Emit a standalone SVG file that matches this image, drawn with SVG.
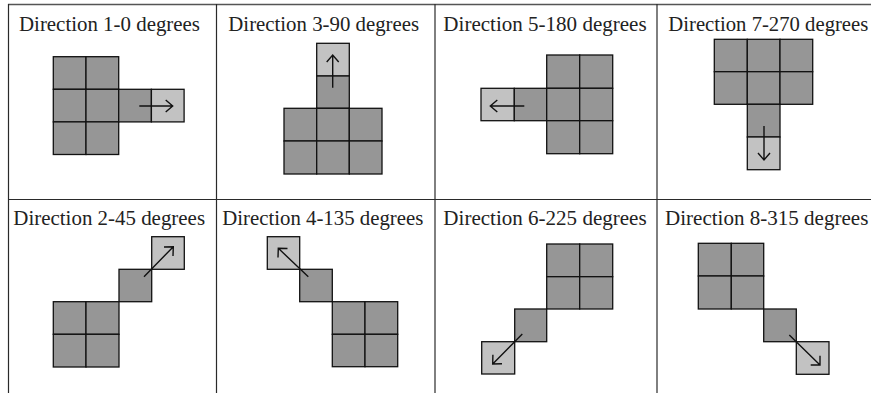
<svg xmlns="http://www.w3.org/2000/svg" width="871" height="393" viewBox="0 0 871 393">
<style>
.bg{fill:#ffffff}
.grid{stroke:#2a2a2a;stroke-width:1.2;fill:none}
.top{stroke:#555555;stroke-width:1.6}
.lbl{font-family:"Liberation Serif","Times New Roman",serif;font-size:20px;fill:#222222;text-anchor:middle}
.d{fill:#969696;stroke:#111111;stroke-width:1.3}
.l{fill:#c2c2c2;stroke:#111111;stroke-width:1.3}
.arr{stroke:#111111;stroke-width:1.4;fill:none}
</style>
<rect class="bg" x="0" y="0" width="871" height="393"/>
<g id="table">
<line class="top" x1="8" y1="4.5" x2="871" y2="4.5"/>
<line class="grid" x1="8.5" y1="4" x2="8.5" y2="393"/>
<line class="grid" x1="216.5" y1="4" x2="216.5" y2="393"/>
<line class="grid" x1="435" y1="4" x2="435" y2="393"/>
<line class="grid" x1="657" y1="4" x2="657" y2="393"/>
<line class="grid" x1="8" y1="199.5" x2="871" y2="199.5"/>
</g>
<g id="p1">
<text class="lbl" x="109.5" y="31" textLength="181" lengthAdjust="spacingAndGlyphs">Direction 1-0 degrees</text>
<rect class="d" x="53.3" y="56.7" width="32.7" height="32.6"/>
<rect class="d" x="86" y="56.7" width="32.7" height="32.6"/>
<rect class="d" x="53.3" y="89.3" width="32.7" height="32.6"/>
<rect class="d" x="86" y="89.3" width="32.7" height="32.6"/>
<rect class="d" x="53.3" y="121.9" width="32.7" height="32.6"/>
<rect class="d" x="86" y="121.9" width="32.7" height="32.6"/>
<rect class="d" x="118.7" y="89.3" width="32.7" height="32.6"/>
<rect class="l" x="151.4" y="89.3" width="32.7" height="32.6"/>
<path class="arr" d="M139.3 106H172.7M165.7 100L172.7 106L165.7 112"/>
</g>
<g id="p2">
<text class="lbl" x="323.7" y="31" textLength="190.7" lengthAdjust="spacingAndGlyphs">Direction 3-90 degrees</text>
<rect class="l" x="316.7" y="43.3" width="32.6" height="32.7"/>
<rect class="d" x="316.7" y="76" width="32.6" height="32.3"/>
<rect class="d" x="284" y="108.3" width="32.7" height="32.7"/>
<rect class="d" x="316.7" y="108.3" width="32.6" height="32.7"/>
<rect class="d" x="349.3" y="108.3" width="32.7" height="32.7"/>
<rect class="d" x="284" y="141" width="32.7" height="33"/>
<rect class="d" x="316.7" y="141" width="32.6" height="33"/>
<rect class="d" x="349.3" y="141" width="32.7" height="33"/>
<path class="arr" d="M332.7 87.7V55M326.7 62L332.7 55L338.7 62"/>
</g>
<g id="p3">
<text class="lbl" x="545" y="31" textLength="203.3" lengthAdjust="spacingAndGlyphs">Direction 5-180 degrees</text>
<rect class="l" x="481" y="88.3" width="33.3" height="32.4"/>
<rect class="d" x="514.3" y="88.3" width="32.4" height="32.4"/>
<rect class="d" x="546.7" y="55" width="33" height="33.3"/>
<rect class="d" x="579.7" y="55" width="33" height="33.3"/>
<rect class="d" x="546.7" y="88.3" width="33" height="32.4"/>
<rect class="d" x="579.7" y="88.3" width="33" height="32.4"/>
<rect class="d" x="546.7" y="120.7" width="33" height="33"/>
<rect class="d" x="579.7" y="120.7" width="33" height="33"/>
<path class="arr" d="M524.3 106H490.3M497.3 100L490.3 106L497.3 112"/>
</g>
<g id="p4">
<text class="lbl" x="768.3" y="31" textLength="200" lengthAdjust="spacingAndGlyphs">Direction 7-270 degrees</text>
<rect class="d" x="714.3" y="39.3" width="33" height="32.4"/>
<rect class="d" x="747.3" y="39.3" width="32.7" height="32.4"/>
<rect class="d" x="780" y="39.3" width="32.7" height="32.4"/>
<rect class="d" x="714.3" y="71.7" width="33" height="32.6"/>
<rect class="d" x="747.3" y="71.7" width="32.7" height="32.6"/>
<rect class="d" x="780" y="71.7" width="32.7" height="32.6"/>
<rect class="d" x="747.3" y="104.3" width="32.7" height="32.7"/>
<rect class="l" x="747.3" y="137" width="32.7" height="32.7"/>
<path class="arr" d="M764 126V160M758 153L764 160L770 153"/>
</g>
<g id="p5">
<text class="lbl" x="109.2" y="224.5" textLength="191.7" lengthAdjust="spacingAndGlyphs">Direction 2-45 degrees</text>
<rect class="l" x="151.7" y="236.7" width="32.6" height="32.6"/>
<rect class="d" x="119" y="269.3" width="32.7" height="32.4"/>
<rect class="d" x="53.3" y="301.7" width="32.7" height="32.6"/>
<rect class="d" x="86" y="301.7" width="33" height="32.6"/>
<rect class="d" x="53.3" y="334.3" width="32.7" height="32.7"/>
<rect class="d" x="86" y="334.3" width="33" height="32.7"/>
<path class="arr" d="M144 276.7L173.3 246.7M164 247L173.3 246.7L173 256"/>
</g>
<g id="p6">
<text class="lbl" x="322.8" y="224.5" textLength="201" lengthAdjust="spacingAndGlyphs">Direction 4-135 degrees</text>
<rect class="l" x="267.3" y="236.7" width="32.4" height="32.6"/>
<rect class="d" x="299.7" y="269.3" width="32.6" height="32.4"/>
<rect class="d" x="332.3" y="301.7" width="32.7" height="32.6"/>
<rect class="d" x="365" y="301.7" width="32.7" height="32.6"/>
<rect class="d" x="332.3" y="334.3" width="32.7" height="32.4"/>
<rect class="d" x="365" y="334.3" width="32.7" height="32.4"/>
<path class="arr" d="M308.3 276.7L278.3 248.3M278 257.5L278.3 248.3L287.5 248.5"/>
</g>
<g id="p7">
<text class="lbl" x="545" y="224.5" textLength="203.3" lengthAdjust="spacingAndGlyphs">Direction 6-225 degrees</text>
<rect class="d" x="546.7" y="244" width="33" height="32.7"/>
<rect class="d" x="579.7" y="244" width="33" height="32.7"/>
<rect class="d" x="546.7" y="276.7" width="33" height="32.3"/>
<rect class="d" x="579.7" y="276.7" width="33" height="32.3"/>
<rect class="d" x="514.7" y="309" width="32" height="32.7"/>
<rect class="l" x="481.7" y="341.7" width="33" height="32.3"/>
<path class="arr" d="M522.3 334L492.7 364M492.9 354.7L492.7 364L502 363.8"/>
</g>
<g id="p8">
<text class="lbl" x="766.7" y="224.5" textLength="203.3" lengthAdjust="spacingAndGlyphs">Direction 8-315 degrees</text>
<rect class="d" x="698.3" y="243.3" width="33" height="32.7"/>
<rect class="d" x="731.3" y="243.3" width="32.4" height="32.7"/>
<rect class="d" x="698.3" y="276" width="33" height="33"/>
<rect class="d" x="731.3" y="276" width="32.4" height="33"/>
<rect class="d" x="763.7" y="309" width="32.6" height="32.7"/>
<rect class="l" x="796.3" y="341.7" width="32.7" height="32.6"/>
<path class="arr" d="M789.3 335L820 365M820 355.7L820 365L810.7 365"/>
</g>
</svg>
